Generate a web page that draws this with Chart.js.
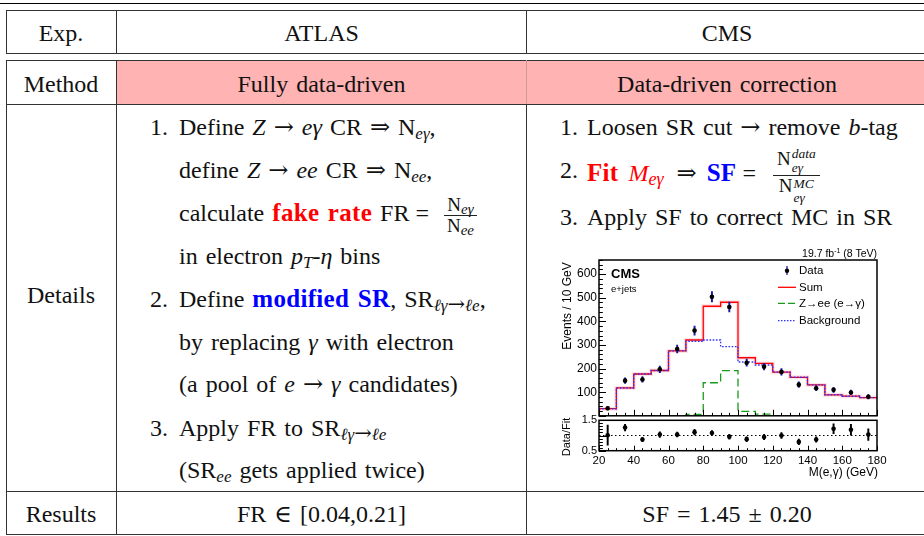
<!DOCTYPE html>
<html><head><meta charset="utf-8">
<script src="https://cdn.jsdelivr.net/npm/chart.js@4.4.0/dist/chart.umd.min.js"></script>
<style>
html,body{margin:0;padding:0;background:#fff;}
body{width:924px;height:536px;position:relative;overflow:hidden;}
.h{position:absolute;height:1px;background:#333;}
.v{position:absolute;width:1px;background:#333;}
.t{position:absolute;white-space:nowrap;font-family:'Liberation Serif','DejaVu Serif',serif;font-size:24px;line-height:46px;color:#111;word-spacing:2px;}
.t b{font-size:25px;letter-spacing:0.3px;}
.c{text-align:center;}
.ar{font-family:'DejaVu Serif','Liberation Serif',serif;font-weight:normal;}
sub.s{font-size:17px;vertical-align:-4px;line-height:0;}
sub.s .ar{font-size:21px;}
.frac{display:inline-flex;flex-direction:column;align-items:center;vertical-align:10px;font-size:19px;line-height:1;margin:0 2px 0 15px;}
.frac>span{display:block;padding:0 3px 1px 3px;}
.frac>span+span{border-top:1px solid #222;padding-top:0;}
.frac sub{font-size:15px;vertical-align:-3px;line-height:0;}
.frac.big{vertical-align:16px;font-size:19px;margin-left:15px;}
.frac.big>span{padding:0 6px 1px 6px;}
.frac.big>span+span{padding-top:0;}
.ss{display:inline-flex;flex-direction:column;font-size:13.5px;line-height:1;vertical-align:7px;font-style:italic;margin-left:1px;}
.ss.lo{vertical-align:4px;}
.red{color:#f00}.blue{color:#00f}
.cj{position:absolute;font-family:'Liberation Sans',Arial,sans-serif;color:#000;white-space:nowrap;line-height:1;}
canvas{position:absolute;}
</style>
</head><body>

<!-- table rules -->
<div class="h" style="left:0;top:2.5px;width:924px;height:1.5px;background:#000"></div>
<div class="h" style="left:6px;top:10px;width:918px"></div>
<div class="h" style="left:6px;top:53px;width:918px"></div>
<div class="h" style="left:6px;top:60px;width:918px"></div>
<div style="position:absolute;left:117px;top:61px;width:807px;height:43px;background:#ffb3b3"></div>
<div class="h" style="left:6px;top:104px;width:918px"></div>
<div class="h" style="left:6px;top:491px;width:918px"></div>
<div class="h" style="left:6px;top:534px;width:918px"></div>
<div class="v" style="left:6px;top:10px;height:44px"></div>
<div class="v" style="left:116px;top:10px;height:44px"></div>
<div class="v" style="left:526px;top:10px;height:44px"></div>
<div class="v" style="left:6px;top:60px;height:475px"></div>
<div class="v" style="left:116px;top:60px;height:475px"></div>
<div class="v" style="left:526px;top:60px;height:44px;background:#d09a9a"></div>
<div class="v" style="left:526px;top:104px;height:431px"></div>

<!-- header -->
<div class="t c" style="left:6px;width:110px" data-b="41.5">Exp.</div>
<div class="t c" style="left:117px;width:409px" data-b="41.5">ATLAS</div>
<div class="t c" style="left:527px;width:400px" data-b="41.5">CMS</div>
<div class="t c" style="left:6px;width:110px" data-b="92.3">Method</div>
<div class="t c" style="left:117px;width:409px" data-b="92.3">Fully data-driven</div>
<div class="t c" style="left:527px;width:400px" data-b="92.3">Data-driven correction</div>
<div class="t c" style="left:6px;width:110px" data-b="303">Details</div>
<div class="t c" style="left:6px;width:110px" data-b="521.7">Results</div>
<div class="t c" style="left:117px;width:409px" data-b="521.7">FR <span class="ar">∈</span> [0.04,0.21]</div>
<div class="t c" style="left:527px;width:400px" data-b="521.7">SF = 1.45 ± 0.20</div>

<!-- ATLAS details -->
<div class="t" style="left:150px" data-b="135">1.</div>
<div class="t" style="left:179px" data-b="135">Define <i>Z</i> <span class="ar">→</span> <i>eγ</i> CR <span class="ar">⇒</span> N<sub class="s"><i>eγ</i></sub>,</div>
<div class="t" style="left:179px" data-b="178.3">define <i>Z</i> <span class="ar">→</span> <i>ee</i> CR <span class="ar">⇒</span> N<sub class="s"><i>ee</i></sub>,</div>
<div class="t" style="left:179px" data-b="221">calculate <b class="red">fake rate</b> FR<span style="margin-left:6px">=</span><span class="frac"><span>N<sub><i>eγ</i></sub></span><span>N<sub><i>ee</i></sub></span></span></div>
<div class="t" style="left:179px" data-b="264.3">in electron <i>p</i><sub class="s"><i>T</i></sub>-<i>η</i> bins</div>
<div class="t" style="left:150px" data-b="306.7">2.</div>
<div class="t" style="left:179px" data-b="306.7">Define <b class="blue">modified SR</b>, SR<sub class="s"><i>ℓγ</i><span class="ar">→</span><i>ℓe</i></sub>,</div>
<div class="t" style="left:179px" data-b="350">by replacing <i>γ</i> with electron</div>
<div class="t" style="left:179px" data-b="392.3">(a pool of <i>e</i> <span class="ar">→</span> <i>γ</i> candidates)</div>
<div class="t" style="left:150px" data-b="435.7">3.</div>
<div class="t" style="left:179px" data-b="435.7">Apply FR to SR<sub class="s"><i>ℓγ</i><span class="ar">→</span><i>ℓe</i></sub></div>
<div class="t" style="left:179px" data-b="478.3">(SR<sub class="s"><i>ee</i></sub> gets applied twice)</div>

<!-- CMS details -->
<div class="t" style="left:560px" data-b="135">1.</div>
<div class="t" style="left:587px" data-b="135">Loosen SR cut <span class="ar">→</span> remove <i>b</i>-tag</div>
<div class="t" style="left:560px" data-b="178.3">2.</div>
<div class="t" style="left:587px" data-b="178.3"><b class="red">Fit</b><i class="red" style="margin-left:10px">M</i><sub class="s red" style="font-size:18px"><i>eγ</i></sub><span class="ar" style="margin:0 10px 0 13px">⇒</span><b class="blue">SF</b><span style="margin-left:6px">=</span><span class="frac big"><span>N<span class="ss"><span>data</span><span>eγ</span></span></span><span>N<span class="ss lo"><span>MC</span><span>eγ</span></span></span></span></div>
<div class="t" style="left:560px" data-b="225">3.</div>
<div class="t" style="left:587px" data-b="225">Apply SF to correct MC in SR</div>

<!-- chart -->
<canvas id="main" width="345" height="185" style="left:550px;top:240px;width:345px;height:185px"></canvas>
<canvas id="ratio" width="345" height="68" style="left:550px;top:410px;width:345px;height:68px"></canvas>

<div class="cj" style="right:47px;top:248px;font-size:10.5px">19.7 fb<sup style="font-size:7px;vertical-align:4px;line-height:0">-1</sup> (8 TeV)</div>
<div class="cj" style="left:611px;top:267px;font-size:13px;font-weight:bold">CMS</div>
<div class="cj" style="left:611px;top:283.5px;font-size:9.5px">e+jets</div>
<div class="cj" style="left:567px;top:306px;font-size:12px;transform:translate(-50%,-50%) rotate(-90deg)">Events / 10 GeV</div>
<div class="cj" style="left:566px;top:436.5px;font-size:11px;transform:translate(-50%,-50%) rotate(-90deg)">Data/Fit</div>
<div class="cj" style="right:46px;top:466px;font-size:12px">M(e,γ) (GeV)</div>

<svg style="position:absolute;left:776px;top:262px" width="22" height="64">
  <line x1="11" y1="4" x2="11" y2="13" stroke="#1a1aa0" stroke-width="1.3"/>
  <circle cx="11" cy="8.7" r="2.2" fill="#000"/>
  <line x1="2" y1="25.3" x2="20" y2="25.3" stroke="#f00" stroke-width="1.3"/>
  <line x1="2" y1="41.3" x2="20" y2="41.3" stroke="#1a9a1a" stroke-width="1.3" stroke-dasharray="7,3"/>
  <line x1="2" y1="58.7" x2="20" y2="58.7" stroke="#3030ff" stroke-width="1.3" stroke-dasharray="1.5,1.5"/>
</svg>
<div class="cj" style="left:799px;top:265px;font-size:11.5px">Data</div>
<div class="cj" style="left:799px;top:281.7px;font-size:11.5px">Sum</div>
<div class="cj" style="left:799px;top:297.7px;font-size:11.5px">Z→ee (e→γ)</div>
<div class="cj" style="left:799px;top:315.1px;font-size:11.5px">Background</div>

<script>
document.querySelectorAll('[data-b]').forEach(function(el){
  el.style.top = (parseFloat(el.dataset.b) - 31.1) + 'px';
});

// ---- data ----
const binEdges   = [20,30,40,50,60,70,80,90,100,110,120,130,140,150,160,170,180];
const binCenters = [25,35,45,55,65,75,85,95,105,115,125,135,145,155,165,175];
const dataVals   = [32,149,154,197,283,361,504,461,225,208,186,132,117,110,99,81];
const dataErr    = [7,12,12,14,17,19,22,21,15,14,14,12,11,11,10,9];
const sumVals    = [30,118,177,192,275,321,464,481,246,222,185,163,131,89,83,77];
const bkgVals    = [30,118,177,192,275,316,321,293,228,215,185,163,131,89,83,77];
const zeeVals    = [0,0,0,0,0,6,140,191,19,7,1,0,0,0,0,0];
const ratioVals  = [1.01,1.26,0.87,1.03,1.03,1.11,1.08,0.96,0.88,0.95,1.00,0.79,0.87,1.22,1.19,1.03];
const ratioErr   = [0.33,0.11,0.07,0.09,0.08,0.09,0.08,0.08,0.08,0.09,0.10,0.09,0.09,0.16,0.18,0.19];
const ratioRef   = 1;
const xTickLabels     = [20,40,60,80,100,120,140,160,180];
const yTickLabelsMain = [100,200,300,400,500,600];
const yTickLabelsRatio= [0.5,1,1.5];

const SANS = "'Liberation Sans', Arial, sans-serif";

function stepPts(vals){
  const p = vals.map((v,i)=>({x:binEdges[i], y:v}));
  p.push({x:binEdges[binEdges.length-1], y:vals[vals.length-1]});
  return p;
}

const frameTicks = {
  id:'frameTicks',
  afterDraw(chart, args, o){
    const ctx = chart.ctx, a = chart.chartArea, xs = chart.scales.x, ys = chart.scales.y;
    ctx.save();
    ctx.strokeStyle = '#000';
    ctx.lineWidth = 1;
    ctx.beginPath();
    let n = Math.round((xs.max - xs.min)/o.xStep);
    for(let i=0;i<=n;i++){
      const v = xs.min + i*o.xStep;
      const px = Math.round(xs.getPixelForValue(v)) + 0.5;
      const major = Math.abs(v/o.xMajor - Math.round(v/o.xMajor)) < 1e-6;
      const L = major ? o.xL : o.xL*0.5;
      ctx.moveTo(px, a.bottom); ctx.lineTo(px, a.bottom - L);
    }
    n = Math.round((ys.max - ys.min)/o.yStep);
    for(let i=0;i<=n;i++){
      const v = ys.min + i*o.yStep;
      const py = Math.round(ys.getPixelForValue(v)) + 0.5;
      const major = Math.abs(v/o.yMajor - Math.round(v/o.yMajor)) < 1e-6;
      const L = major ? o.yL : o.yL*0.55;
      ctx.moveTo(a.left, py); ctx.lineTo(a.left + L, py);
    }
    ctx.stroke();
    ctx.lineWidth = 1.5;
    ctx.strokeRect(a.left, a.top, a.right - a.left, a.bottom - a.top);
    ctx.restore();
  }
};

const noGrid = {display:false, drawTicks:false};

new Chart(document.getElementById('main'), {
  type:'line',
  plugins:[frameTicks],
  data:{datasets:[
    {type:'scatter', data:binCenters.map((x,i)=>({x:x,y:dataVals[i]})), pointRadius:2.3, pointBackgroundColor:'#000', pointBorderWidth:0, showLine:false},
    {type:'bar', data:binCenters.map((x,i)=>({x:x,y:[dataVals[i]-dataErr[i], dataVals[i]+dataErr[i]]})), backgroundColor:'#1a1aa0', barThickness:1.3, borderWidth:0, grouped:false},
    {data:stepPts(bkgVals), stepped:true, borderColor:'#3030ff', borderWidth:1.4, borderDash:[1.6,1.6], pointRadius:0, fill:false},
    {data:stepPts(zeeVals), stepped:true, borderColor:'#1a9a1a', borderWidth:1.3, borderDash:[8,4], pointRadius:0, fill:false},
    {data:stepPts(sumVals), stepped:true, borderColor:'#ff0000', borderWidth:1.3, pointRadius:0, fill:false},
    {data:stepPts(sumVals), stepped:true, borderColor:'rgba(255,120,140,0.22)', borderWidth:4, pointRadius:0, fill:false}
  ]},
  options:{
    responsive:false, animation:false, devicePixelRatio:1,
    layout:{padding:{left:0,top:20,right:18,bottom:7.4}, autoPadding:false},
    plugins:{legend:{display:false}, tooltip:{enabled:false},
      frameTicks:{xStep:5,xMajor:20,xL:6,yStep:20,yMajor:100,yL:7}},
    scales:{
      x:{type:'linear', min:20, max:180, display:false, offset:false},
      y:{type:'linear', min:0, max:660,
         afterFit:function(s){s.width=49;},
         afterBuildTicks:function(s){s.ticks = yTickLabelsMain.map(v=>({value:v}));},
         grid:noGrid, border:{display:false},
         ticks:{color:'#000', padding:2, font:{family:SANS,size:12}}}
    }
  }
});

new Chart(document.getElementById('ratio'), {
  type:'line',
  plugins:[frameTicks],
  data:{datasets:[
    {type:'scatter', data:binCenters.map((x,i)=>({x:x,y:ratioVals[i]})), pointRadius:2.3, pointBackgroundColor:'#000', pointBorderWidth:0, showLine:false},
    {type:'bar', data:binCenters.map((x,i)=>({x:x,y:[ratioVals[i]-ratioErr[i], ratioVals[i]+ratioErr[i]]})), backgroundColor:'#000', barThickness:1.3, borderWidth:0, grouped:false},
    {data:[{x:binEdges[0],y:ratioRef},{x:binEdges[binEdges.length-1],y:ratioRef}], borderColor:'#000', borderWidth:1, borderDash:[1.5,2.5], pointRadius:0, fill:false}
  ]},
  options:{
    responsive:false, animation:false, devicePixelRatio:1,
    layout:{padding:{left:0,top:10.3,right:18,bottom:0}, autoPadding:false},
    plugins:{legend:{display:false}, tooltip:{enabled:false},
      frameTicks:{xStep:5,xMajor:20,xL:5,yStep:0.1,yMajor:0.5,yL:7}},
    scales:{
      x:{type:'linear', min:20, max:180, offset:false,
         afterFit:function(s){s.height=27.3;},
         afterBuildTicks:function(s){s.ticks = xTickLabels.map(v=>({value:v}));},
         grid:noGrid, border:{display:false},
         ticks:{color:'#000', padding:3, maxRotation:0, autoSkip:false, font:{family:SANS,size:11.5}}},
      y:{type:'linear', min:0.5, max:1.5,
         afterFit:function(s){s.width=49;},
         afterBuildTicks:function(s){s.ticks = yTickLabelsRatio.map(v=>({value:v}));},
         grid:noGrid, border:{display:false},
         ticks:{color:'#000', padding:2, font:{family:SANS,size:11}, callback:function(v){return String(v);}}}
    }
  }
});
</script>
</body></html>
